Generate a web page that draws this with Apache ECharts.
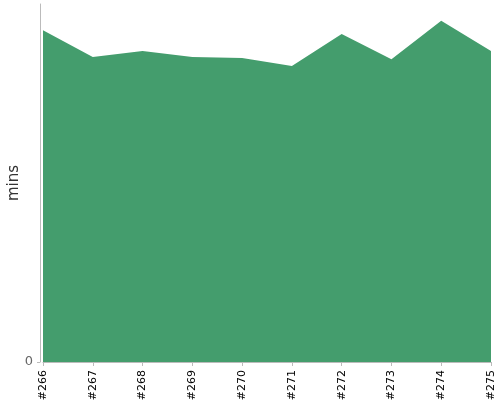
<!DOCTYPE html>
<html>
<head>
<meta charset="utf-8">
<script src="https://cdn.jsdelivr.net/npm/echarts@6/dist/echarts.min.js"></script>
<style>
html, body { margin: 0; padding: 0; background: #fff; }
#main { width: 500px; height: 400px; }
</style>
</head>
<body>
<div id="main"></div>
<script>
// builds and their durations
var builds = ['#266', '#267', '#268', '#269', '#270', '#271', '#272', '#273', '#274', '#275'];
var mins = [92.7, 85.2, 86.9, 85.2, 84.9, 82.7, 91.6, 84.6, 95.3, 86.9];
var yTicks = [0];

var chart = echarts.init(document.getElementById('main'));

var option = {
    animation: false,
    grid: { left: 43, right: 9, top: 4, bottom: 38, containLabel: false, outerBoundsMode: 'none' },
    xAxis: {
        type: 'category',
        data: builds,
        boundaryGap: false,
        offset: 4,
        axisLine: { lineStyle: { color: '#bbb' } },
        axisTick: { alignWithLabel: true, length: 4, lineStyle: { color: '#bbb' } },
        axisLabel: { rotate: 90, color: '#000', fontSize: 11, margin: 4, fontFamily: 'DejaVu Sans', interval: 0 }
    },
    yAxis: {
        type: 'value',
        min: 0,
        max: 100,
        offset: 3,
        name: 'mins',
        nameLocation: 'middle',
        nameGap: 18,
        nameMoveOverlap: false,
        nameTextStyle: { color: '#333', fontSize: 15, fontFamily: 'DejaVu Sans' },
        splitLine: { show: false },
        axisLine: { show: true, lineStyle: { color: '#bbb' } },
        axisTick: { show: true, length: 3, customValues: yTicks, lineStyle: { color: '#bbb' } },
        axisLabel: { customValues: yTicks, color: '#666', fontSize: 13, margin: 7, fontFamily: 'DejaVu Sans' }
    },
    series: [
        {
            type: 'line',
            data: mins,
            showSymbol: false,
            lineStyle: { width: 0 },
            areaStyle: { color: '#449d6d', opacity: 1 }
        }
    ]
};

chart.setOption(option);
</script>
</body>
</html>
